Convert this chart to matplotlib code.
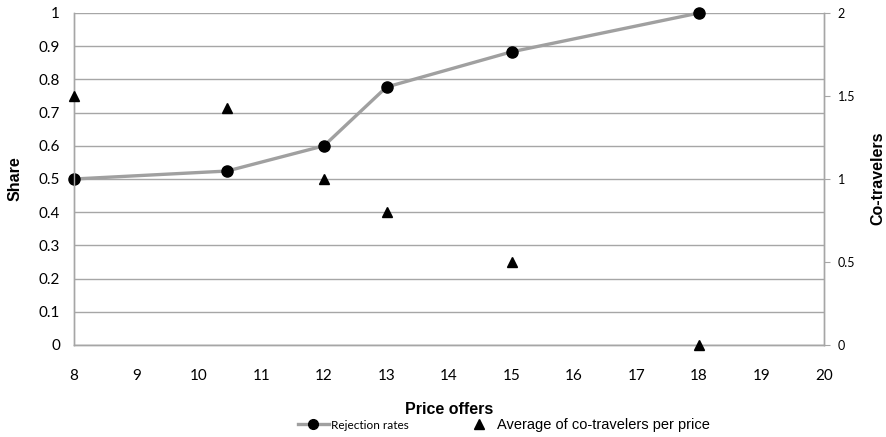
import matplotlib
matplotlib.use("Agg")
import matplotlib.pyplot as plt
from matplotlib.lines import Line2D

plt.rcParams["font.family"] = ["Lato", "DejaVu Sans"]

# data
price = [8, 10.45, 12, 13, 15, 18]
rejection = [0.5, 0.524, 0.6, 0.777, 0.883, 1.0]
cotravelers = [1.5, 1.43, 1.0, 0.8, 0.5, 0.0]
x_ticks = list(range(8, 21))
left_ticks = [0, 0.1, 0.2, 0.3, 0.4, 0.5, 0.6, 0.7, 0.8, 0.9, 1]
right_ticks = [0, 0.5, 1, 1.5, 2]

GRID = "#a6a6a6"
LINE = "#a0a0a0"

fig = plt.figure(figsize=(8.87, 4.37), dpi=100)
ax = fig.add_axes([74 / 887, 92 / 437, 750 / 887, 332 / 437])
ax2 = ax.twinx()

ax.plot(price, rejection, color=LINE, lw=2.4, marker="o", ms=8,
        mfc="black", mec="black", zorder=3, clip_on=False)
ax2.plot(price, cotravelers, ls="none", marker="^", ms=6.5,
         color="black", zorder=3, clip_on=False)

ax.set_xlim(8, 20)
ax.set_ylim(0, 1)
ax2.set_ylim(0, 2)
ax.set_xticks(x_ticks)
ax.set_xticklabels([str(v) for v in x_ticks], fontsize=11)
ax.set_yticks(left_ticks)
ax.set_yticklabels([f"{v:g}" for v in left_ticks], fontsize=11)
ax2.set_yticks(right_ticks)
ax2.set_yticklabels([f"{v:g}" for v in right_ticks], fontsize=9)

ax.yaxis.grid(True, color=GRID, lw=1.0)
ax.set_axisbelow(True)
ax.tick_params(axis="y", length=0, pad=10)
ax.tick_params(axis="x", length=0, pad=17)
ax2.tick_params(axis="y", length=4, color=GRID, pad=6, direction="out")

for a in (ax, ax2):
    a.spines["top"].set_visible(False)
    for s in ("left", "bottom", "right"):
        a.spines[s].set_color(GRID)
        a.spines[s].set_linewidth(1.0)

ax.set_ylabel("Share", fontsize=11.5, fontweight="bold",
              family="Liberation Sans", labelpad=12)
fig.text(878 / 887, 1 - 178 / 437, "Co-travelers", rotation=90,
         ha="center", va="center", fontsize=11.5, fontweight="bold",
         family="Liberation Sans")
ax.set_xlabel("Price offers", fontsize=11.5, fontweight="bold",
              family="Liberation Sans", labelpad=14)

handles = [
    Line2D([], [], color=LINE, lw=2.4, marker="o", ms=7, mfc="black", mec="black"),
    Line2D([], [], ls="none", marker="^", ms=6.5, color="black"),
]
leg = fig.legend(handles, ["Rejection rates", "Average of co-travelers per price"],
                 loc="center left", bbox_to_anchor=(298 / 887, 12 / 437), ncol=2,
                 frameon=False, handlelength=2.2, handletextpad=0.15,
                 columnspacing=4.0, borderaxespad=0, borderpad=0)
txts = leg.get_texts()
txts[0].set_fontsize(8.5)
txts[1].set_fontsize(10.5)
txts[1].set_family("Liberation Sans")

fig.savefig("out.png", dpi=100)
